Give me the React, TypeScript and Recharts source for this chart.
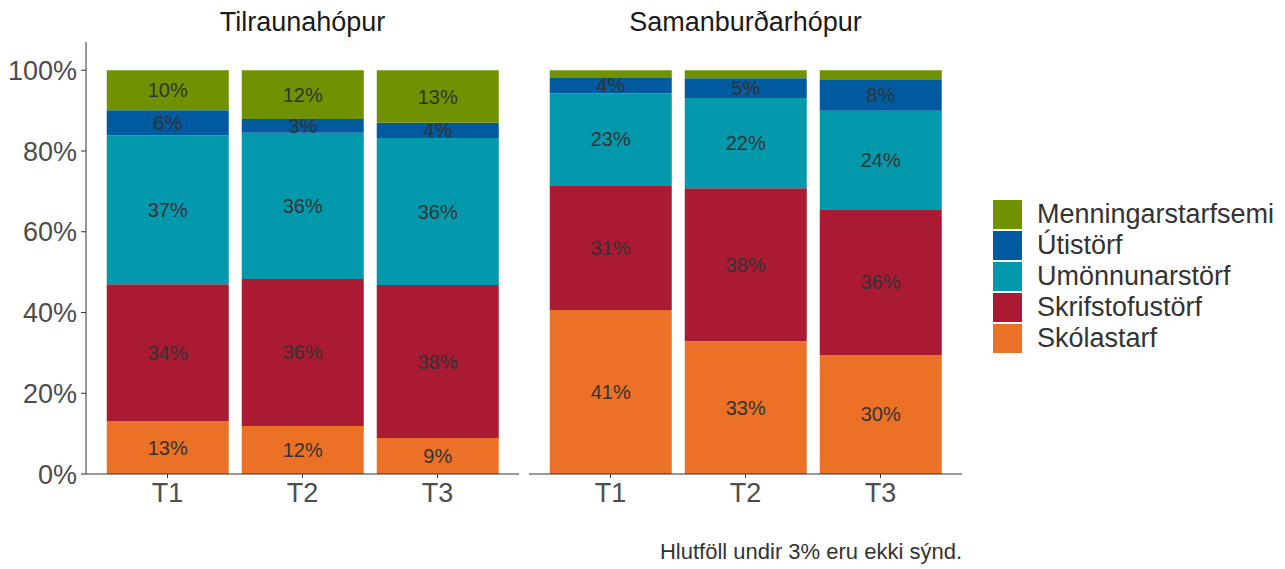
import React from 'react';
import { BarChart, Bar, XAxis, YAxis, LabelList } from 'recharts';

const periods = ['T1', 'T2', 'T3'];
const yTicks = [0, 20, 40, 60, 80, 100];

// Tilraunahópur
const tilSkolastarf = [13.1, 11.9, 8.9];
const tilSkrifstofustorf = [33.9, 36.4, 37.9];
const tilUmonnunarstorf = [36.9, 36.2, 36.4];
const tilUtistorf = [6.2, 3.4, 3.8];
const tilMenningarstarfsemi = [9.9, 12.1, 13.0];

// Samanburðarhópur
const samSkolastarf = [40.6, 32.9, 29.5];
const samSkrifstofustorf = [30.9, 37.9, 36.1];
const samUmonnunarstorf = [22.8, 22.3, 24.4];
const samUtistorf = [4.0, 4.9, 7.8];
const samMenningarstarfsemi = [1.7, 2.0, 2.2];

const series = [
  { key: 'skolastarf', name: 'Skólastarf', color: '#eb7127' },
  { key: 'skrifstofustorf', name: 'Skrifstofustörf', color: '#aa1a32' },
  { key: 'umonnunarstorf', name: 'Umönnunarstörf', color: '#0399ad' },
  { key: 'utistorf', name: 'Útistörf', color: '#005aa0' },
  { key: 'menningarstarfsemi', name: 'Menningarstarfsemi', color: '#709200' },
];

const buildRows = (cols: number[][]) =>
  periods.map((p, i) => {
    const row: Record<string, any> = { period: p };
    series.forEach((s, j) => {
      row[s.key] = cols[j][i];
    });
    return row;
  });

const tilData = buildRows([tilSkolastarf, tilSkrifstofustorf, tilUmonnunarstorf, tilUtistorf, tilMenningarstarfsemi]);
const samData = buildRows([samSkolastarf, samSkrifstofustorf, samUmonnunarstorf, samUtistorf, samMenningarstarfsemi]);

const FONT = '"Liberation Sans", Arial, sans-serif';

// labels under 3% are not shown
const renderLabel = (props: any) => {
  const { x, y, width, height, value } = props;
  if (value < 3) return null;
  return (
    <text
      x={x + width / 2}
      y={y + height / 2}
      textAnchor="middle"
      dominantBaseline="central"
      fontSize={20}
      fontFamily={FONT}
      fill="#333333"
    >
      {Math.round(value)}%
    </text>
  );
};

function Panel({ data, showY }: { data: any[]; showY: boolean }) {
  return (
    <BarChart
      width={showY ? 519 : 433}
      height={514}
      data={data}
      margin={{ top: 42, right: 0, bottom: 0, left: 0 }}
      barCategoryGap="5%"
    >
      <XAxis
        dataKey="period"
        padding={{ left: 14, right: 14 }}
        height={40}
        tickSize={4}
        tickMargin={5}
        stroke="#333333"
        tick={{ fill: '#4d4d4d', fontSize: 27, fontFamily: FONT }}
      />
      <YAxis
        hide={!showY}
        width={86}
        domain={[0, 107]}
        ticks={yTicks}
        tickFormatter={(v) => `${v}%`}
        tickSize={5}
        tickMargin={4}
        stroke="#333333"
        allowDataOverflow
        tick={{ fill: '#4d4d4d', fontSize: 27, fontFamily: FONT }}
      />
      {series.map((s) => (
        <Bar key={s.key} dataKey={s.key} stackId="a" fill={s.color} isAnimationActive={false}>
          <LabelList dataKey={s.key} content={renderLabel} />
        </Bar>
      ))}
    </BarChart>
  );
}

export default function App() {
  const legendItems = [...series].reverse();
  return (
    <div style={{ position: 'absolute', left: 0, top: 0, width: 1285, height: 569, background: '#fff', fontFamily: FONT }}>
      <div style={{ position: 'absolute', left: 86, top: 7, width: 433, textAlign: 'center', fontSize: 27, color: '#1a1a1a' }}>
        Tilraunahópur
      </div>
      <div style={{ position: 'absolute', left: 529, top: 7, width: 433, textAlign: 'center', fontSize: 27, color: '#1a1a1a' }}>
        Samanburðarhópur
      </div>
      <div style={{ position: 'absolute', left: 0, top: 0 }}>
        <Panel data={tilData} showY />
      </div>
      <div style={{ position: 'absolute', left: 529, top: 0 }}>
        <Panel data={samData} showY={false} />
      </div>
      <div style={{ position: 'absolute', left: 993, top: 199 }}>
        {legendItems.map((s) => (
          <div key={s.key} style={{ display: 'flex', alignItems: 'center', height: 31 }}>
            <div style={{ width: 29, height: 29, background: s.color }} />
            <span style={{ marginLeft: 15, fontSize: 27, color: '#333333', lineHeight: '31px' }}>{s.name}</span>
          </div>
        ))}
      </div>
      <div style={{ position: 'absolute', right: 1285 - 962, top: 539, fontSize: 22, color: '#333333', whiteSpace: 'nowrap' }}>
        Hlutföll undir 3% eru ekki sýnd.
      </div>
    </div>
  );
}
